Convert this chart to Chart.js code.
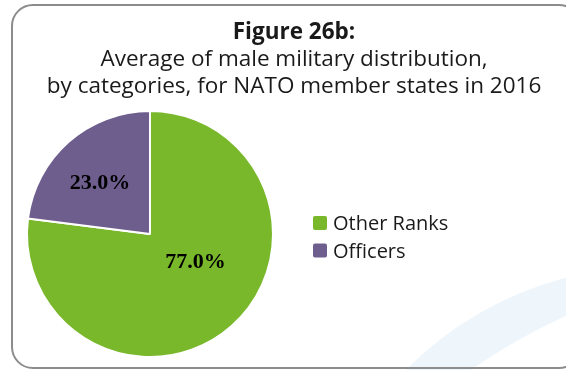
<!DOCTYPE html>
<html>
<head>
<meta charset="utf-8">
<script src="https://cdn.jsdelivr.net/npm/chart.js@4/dist/chart.umd.min.js"></script>
<style>
  html, body { margin: 0; padding: 0; background: #ffffff; }
  #wrap { width: 566px; height: 370px; position: relative; }
</style>
</head>
<body>
<div id="wrap"><canvas id="c" width="566" height="370"></canvas></div>
<script>
// Figure 26b data: share of male military personnel by category (%)
const categories = ['Other Ranks', 'Officers'];
const shares = [77.0, 23.0];
const sliceColors = ['#78B82A', '#6E5E8E'];

const titleLine = 'Figure 26b:';
const subtitleLines = [
  'Average of male military distribution,',
  'by categories, for NATO member states in 2016'
];

const FONT = '"Open Sans", Lato, sans-serif';

// Frame, background swoosh, headings, legend and value labels
const decor = {
  id: 'decor',
  beforeDraw(chart) {
    const ctx = chart.ctx;
    ctx.save();
    ctx.fillStyle = '#ffffff';
    ctx.fillRect(0, 0, chart.width, chart.height);
    // pale blue swoosh in the lower right corner
    ctx.fillStyle = '#EEF6FC';
    ctx.beginPath();
    ctx.moveTo(400, 376);
    ctx.quadraticCurveTo(470, 302, 572, 276);
    ctx.lineTo(572, 313);
    ctx.quadraticCurveTo(512, 340, 462, 376);
    ctx.closePath();
    ctx.fill();
    // rounded frame
    ctx.strokeStyle = '#8C8C8C';
    ctx.lineWidth = 2;
    ctx.beginPath();
    ctx.roundRect(12, 5, 568, 363, 21);
    ctx.stroke();
    ctx.restore();
  },
  afterDraw(chart) {
    const ctx = chart.ctx;
    ctx.save();
    // headings
    ctx.fillStyle = '#1a1a1a';
    ctx.textAlign = 'center';
    ctx.textBaseline = 'alphabetic';
    ctx.font = 'bold 22.5px ' + FONT;
    ctx.fillText(titleLine, 294, 39);
    ctx.font = '22.5px ' + FONT;
    subtitleLines.forEach((t, i) => ctx.fillText(t, 294, 66 + i * 27));

    // legend
    const labels = chart.data.labels;
    const colors = chart.data.datasets[0].backgroundColor;
    ctx.textAlign = 'left';
    ctx.font = '20px ' + FONT;
    labels.forEach((t, i) => {
      const y = 216 + i * 27.5;
      ctx.fillStyle = colors[i];
      ctx.beginPath();
      ctx.roundRect(313, y, 14, 14, 2);
      ctx.fill();
      ctx.fillStyle = '#1a1a1a';
      ctx.fillText(t, 333, y + 14);
    });

    // value labels placed inside each slice
    const place = [{ r: 0.43, turn: -18 }, { r: 0.585, turn: -2.5 }];
    const meta = chart.getDatasetMeta(0);
    const values = chart.data.datasets[0].data;
    ctx.textAlign = 'center';
    ctx.textBaseline = 'middle';
    ctx.font = 'bold 22px "Liberation Serif", "Times New Roman", serif';
    ctx.fillStyle = '#000000';
    meta.data.forEach((arc, i) => {
      const p = arc.getProps(['x', 'y', 'startAngle', 'endAngle', 'outerRadius'], true);
      const a = (p.startAngle + p.endAngle) / 2 + place[i].turn * Math.PI / 180;
      const d = p.outerRadius * place[i].r;
      ctx.fillText(values[i].toFixed(1) + '%', p.x + d * Math.cos(a), p.y + d * Math.sin(a) + 1);
    });
    ctx.restore();
  }
};

new Chart(document.getElementById('c'), {
  type: 'pie',
  data: {
    labels: categories,
    datasets: [{
      data: shares,
      backgroundColor: sliceColors,
      borderColor: '#ffffff',
      borderWidth: 2
    }]
  },
  options: {
    responsive: false,
    animation: false,
    layout: { padding: { left: 26, top: 110, right: 292, bottom: 12 } },
    plugins: {
      legend: { display: false },
      title: { display: false },
      tooltip: { enabled: false }
    }
  },
  plugins: [decor]
});
</script>
</body>
</html>
